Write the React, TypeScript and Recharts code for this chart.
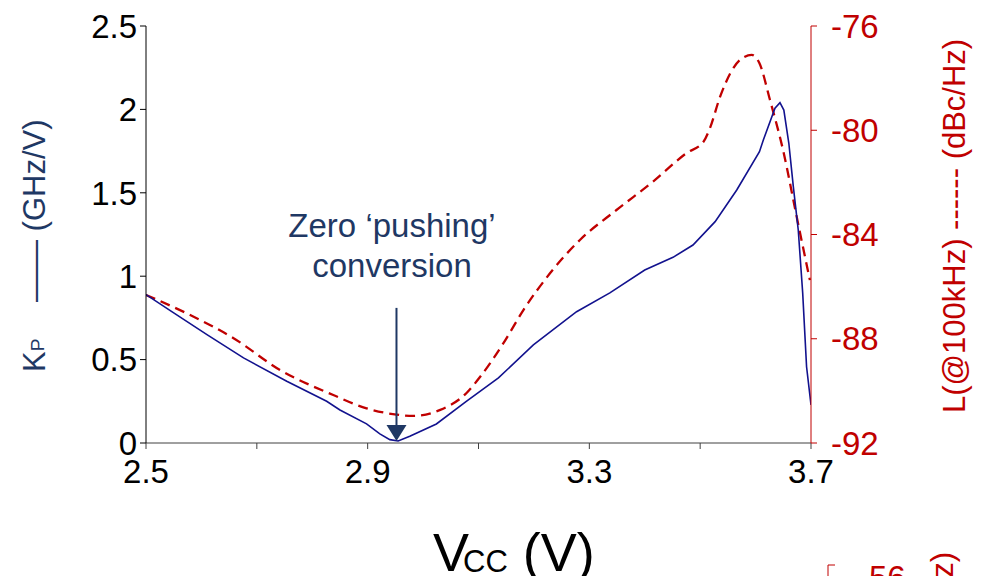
import React from "react";
import { LineChart, Line, XAxis, YAxis, ReferenceLine, ReferenceDot } from "recharts";

// Kp (GHz/V) vs Vcc - solid blue, left axis
const kpVcc = [2.5, 2.55, 2.61, 2.676, 2.754, 2.826, 2.85, 2.898, 2.922, 2.94, 2.955, 2.976, 3.024, 3.078, 3.136, 3.199, 3.277, 3.337, 3.4, 3.451, 3.487, 3.527, 3.566, 3.607, 3.614, 3.635, 3.644, 3.651, 3.66, 3.668, 3.677, 3.685, 3.692, 3.7];
const kpValues = [0.89, 0.78, 0.65, 0.51, 0.37, 0.25, 0.198, 0.115, 0.055, 0.02, 0.012, 0.04, 0.114, 0.25, 0.39, 0.588, 0.787, 0.9, 1.037, 1.113, 1.187, 1.327, 1.517, 1.746, 1.817, 2.007, 2.04, 1.996, 1.797, 1.54, 1.277, 0.9, 0.457, 0.228];

// phase noise L(@100kHz) (dBc/Hz) vs Vcc - dashed red, right axis
const noiseVcc = [2.5, 2.573, 2.658, 2.742, 2.838, 2.898, 2.952, 2.982, 3.031, 3.078, 3.103, 3.145, 3.181, 3.229, 3.283, 3.349, 3.415, 3.475, 3.506, 3.518, 3.536, 3.572, 3.593, 3.607, 3.626, 3.65, 3.674, 3.698];
const noiseValues = [-86.32, -87.02, -87.98, -89.2, -90.16, -90.67, -90.91, -90.96, -90.73, -90.09, -89.46, -88.17, -86.9, -85.49, -84.21, -83.06, -81.97, -80.88, -80.44, -79.9, -78.71, -77.3, -77.11, -77.43, -78.84, -80.8, -83.3, -85.75];

const xTicks = [2.5, 2.7, 2.9, 3.1, 3.3, 3.5, 3.7];
const xLabeled = ["2.5", "2.9", "3.3", "3.7"];
const leftTicks = [0, 0.5, 1, 1.5, 2, 2.5];
const rightTicks = [-92, -88, -84, -80, -76];

const arrowX = 2.952;
const arrowTop = 0.81;
const arrowTip = 0.012;

const kpData = kpVcc.map((v, i) => ({ vcc: v, kp: kpValues[i] }));
const noiseData = noiseVcc.map((v, i) => ({ vcc: v, noise: noiseValues[i] }));

const FONT = "'Liberation Sans', Arial, sans-serif";
const NAVY = "#1F3864";
const RED = "#C00000";

const ArrowHead = (p: any) => (
  <path d={`M${p.cx - 10},${p.cy - 16} L${p.cx + 10},${p.cy - 16} L${p.cx},${p.cy} Z`} fill={NAVY} />
);

export default function App() {
  return (
    <div style={{ position: "absolute", left: 0, top: 0, width: 986, height: 576, background: "#fff", overflow: "hidden" }}>
      <LineChart width={986} height={576} margin={{ top: 26, right: 0, bottom: 0, left: 0 }}>
        <XAxis
          type="number"
          dataKey="vcc"
          domain={[2.5, 3.7]}
          allowDataOverflow
          ticks={xTicks}
          interval={0}
          tickFormatter={(v) => (xLabeled.includes(v.toFixed(1)) ? v.toFixed(1) : "")}
          height={133}
          tickSize={6}
          tickMargin={11}
          stroke="#404040"
          tick={{ fill: "#000", fontSize: 33, fontFamily: FONT }}
        />
        <YAxis
          yAxisId="left"
          orientation="left"
          width={146}
          domain={[0, 2.5]}
          ticks={leftTicks}
          interval={0}
          tickSize={6}
          tickMargin={3}
          stroke="#000"
          tick={{ fill: "#000", fontSize: 33, fontFamily: FONT }}
        />
        <YAxis
          yAxisId="right"
          orientation="right"
          width={175}
          domain={[-92, -76]}
          ticks={rightTicks}
          interval={0}
          tickSize={6}
          tickMargin={14}
          stroke={RED}
          tick={{ fill: RED, fontSize: 33, fontFamily: FONT }}
        />
        <Line yAxisId="right" data={noiseData} dataKey="noise" type="monotone" stroke={RED} strokeWidth={2.3} strokeDasharray="10 6" dot={false} isAnimationActive={false} />
        <Line yAxisId="left" data={kpData} dataKey="kp" type="linear" stroke="#12128E" strokeWidth={1.6} dot={false} isAnimationActive={false} />
        <ReferenceLine yAxisId="left" segment={[{ x: arrowX, y: arrowTop }, { x: arrowX, y: 0.08 }]} stroke={NAVY} strokeWidth={2} />
        <ReferenceDot yAxisId="left" x={arrowX} y={arrowTip} r={0} shape={ArrowHead} />
      </LineChart>
      <svg width={986} height={576} style={{ position: "absolute", left: 0, top: 0, pointerEvents: "none" }} fontFamily={FONT}>
        {/* annotation */}
        <text x={392} y={237} textAnchor="middle" fontSize={33} fill={NAVY}>Zero ‘pushing’</text>
        <text x={392} y={277} textAnchor="middle" fontSize={33} fill={NAVY}>conversion</text>
        {/* x axis title */}
        <text x={433} y={571} fontSize={54} fill="#000">
          V<tspan fontSize={31} dx={-6} dy={1}>CC</tspan><tspan fontSize={54} dy={-1}> (V)</tspan>
        </text>
        {/* left axis title */}
        <text transform="translate(45,372) rotate(-90)" fontSize={31} fill={NAVY}>
          K<tspan fontSize={19} dy={-1}>P</tspan>
        </text>
        <text transform="translate(45,302) rotate(-90)" fontSize={31} fill={NAVY}>—— (GHz/V)</text>
        {/* right axis title */}
        <text transform="translate(965,413) rotate(-90)" fontSize={31} fill={RED}>L(@100kHz) ------ (dBc/Hz)</text>
        {/* top of the next chart, cut off */}
        <path d="M835,565 L828,565 L828,580" stroke={RED} strokeWidth={1} fill="none" />
        <text x={858} y={589} fontSize={33} fill={RED}>-56</text>
        <text transform="translate(953,552) rotate(-90)" textAnchor="end" fontSize={31} fill={RED}>(dBc/Hz)</text>
      </svg>
    </div>
  );
}
